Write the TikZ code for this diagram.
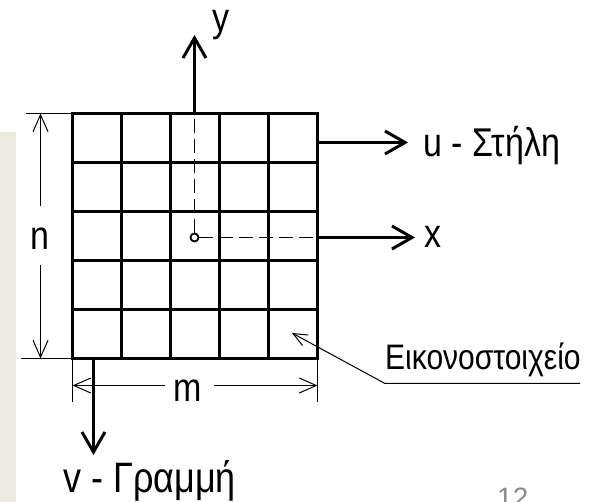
\documentclass[tikz,border=0pt]{standalone}
\usepackage{fontspec}
\setmainfont{Liberation Sans}
\usepackage{tikz}
\usetikzlibrary{arrows.meta}
\definecolor{panelbeige}{RGB}{236,233,222}
\definecolor{pagegray}{RGB}{140,140,140}
\newcommand\tallbox[1]{\scalebox{1}[1.18]{#1}}

\tikzset{
  gridline/.style={line width=3pt,line cap=rect},
  axisline/.style={line width=3pt,-{Straight Barb[length=20pt,width=23pt]}},
  axisdash/.style={line width=1pt,dash pattern=on 14pt off 6pt},
  dimline/.style={line width=1pt},
  dimarrow/.style={line width=1pt,-{Straight Barb[length=17pt,width=15pt]}},
  biglabel/.style={font=\fontsize{34}{40}\selectfont,inner sep=0pt},
}

\begin{document}
\begin{tikzpicture}[x=1pt,y=-1pt]
    \useasboundingbox (0,0) rectangle (589,502);
    % side panel
    \fill[panelbeige] (0,132) rectangle (16,502);
    % pixel grid
    \foreach \i in {0,...,5} {
      \draw[gridline] (72.5+49*\i,113.5) -- (72.5+49*\i,358.5);
      \draw[gridline] (72.5,113.5+49*\i) -- (317.5,113.5+49*\i);
    }
    % origin and axes
    \node[circle,draw,fill=white,line width=1.8pt,minimum size=8pt,inner sep=0pt] (org) at (194.5,237.5) {};
    \coordinate (ytop) at (194.5,113.5);
    \coordinate (ytip) at (194.5,35);
    \coordinate (xedge) at (317.5,237.5);
    \coordinate (xtip) at (415,237.5);
    \draw[axisdash] (org) -- (ytop);
    \draw[axisline] (ytop) -- (ytip);
    \draw[axisdash] (org) -- (xedge);
    \draw[axisline] (xedge) -- (xtip);
    \node[biglabel,anchor=base west] (ylab) at (212,32) {\tallbox{y}};
    \node[biglabel,anchor=base west] (xlab) at (424,248) {\tallbox{x}};
    % column and row directions
    \coordinate (colstart) at (317.5,142.5);
    \coordinate (coltip) at (408,142.5);
    \coordinate (rowstart) at (93.5,358.5);
    \coordinate (rowtip) at (93.5,455);
    \draw[axisline] (colstart) -- (coltip);
    \draw[axisline] (rowstart) -- (rowtip);
    \node[biglabel,anchor=base west] (ulab) at (423,157) {\tallbox{u - Στήλη}};
    \node[biglabel,anchor=base west,font=\fontsize{36}{42}\selectfont] (vlab) at (63,492) {\tallbox{v - Γραμμή}};
    % dimension n
    \node[biglabel,anchor=base] (nlab) at (40,250) {\tallbox{n}};
    \coordinate (nupper) at (40.5,206);
    \coordinate (nlower) at (40.5,265);
    \coordinate (ntop) at (40.5,113.5);
    \coordinate (nbot) at (40.5,358.5);
    \draw[dimline] (26,113.5) -- (72,113.5);
    \draw[dimline] (21,358.5) -- (72,358.5);
    \draw[dimarrow] (nupper) -- (ntop);
    \draw[dimarrow] (nlower) -- (nbot);
    % dimension m
    \node[biglabel,anchor=base] (mlab) at (188,402) {\tallbox{m}};
    \coordinate (mleft) at (72.5,385.5);
    \coordinate (mright) at (317.5,385.5);
    \draw[dimline] (72.5,358.5) -- (72.5,402);
    \draw[dimline] (317.5,358.5) -- (317.5,402);
    \draw[dimarrow] (165,385.5) -- (mleft);
    \draw[dimarrow] (214,385.5) -- (mright);
    % pixel callout
    \node[font=\fontsize{30}{36}\selectfont,inner sep=0pt,anchor=base west] (pixlab) at (385,370) {\tallbox{Εικονοστοιχείο}};
    \coordinate (pixtip) at (292,333);
    \coordinate (pixbend) at (385,383.5);
    \coordinate (pixend) at (580,383.5);
    \draw[dimline,{Straight Barb[length=14pt,width=12pt]}-] (pixtip) -- (pixbend) -- (pixend);
    % page number
    \node[font=\fontsize{28}{34}\selectfont,text=pagegray,inner sep=0pt,anchor=base west] (pagenum) at (497,507) {12};
\end{tikzpicture}
\end{document}
